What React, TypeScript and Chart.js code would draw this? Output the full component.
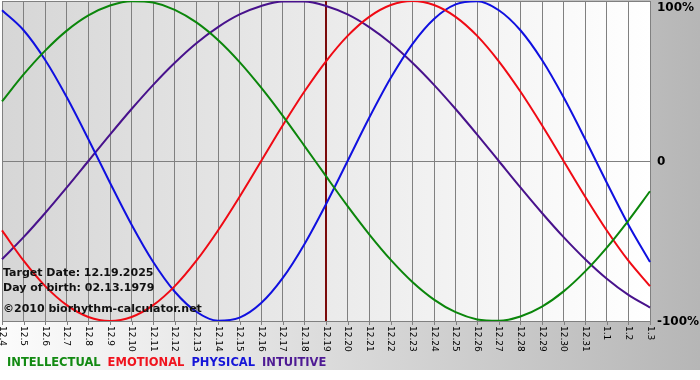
import React, { useEffect, useRef } from "react";
import { Chart, registerables } from "chart.js";

Chart.register(...registerables);

const dayLabels = [
  "12.4", "12.5", "12.6", "12.7", "12.8", "12.9", "12.10", "12.11", "12.12", "12.13",
  "12.14", "12.15", "12.16", "12.17", "12.18", "12.19", "12.20", "12.21", "12.22", "12.23",
  "12.24", "12.25", "12.26", "12.27", "12.28", "12.29", "12.30", "12.31", "1.1", "1.2", "1.3",
];

const intellectual = [
  0.372, 0.541, 0.69, 0.815, 0.91, 0.972, 0.999, 0.99, 0.945, 0.866,
  0.756, 0.618, 0.458, 0.282, 0.095, -0.095, -0.282, -0.458, -0.618, -0.756,
  -0.866, -0.945, -0.99, -0.999, -0.972, -0.91, -0.815, -0.69, -0.541, -0.372, -0.189,
];
const emotional = [
  -0.434, -0.623, -0.782, -0.901, -0.975, -1.0, -0.975, -0.901, -0.782, -0.623,
  -0.434, -0.223, 0, 0.223, 0.434, 0.623, 0.782, 0.901, 0.975, 1.0,
  0.975, 0.901, 0.782, 0.623, 0.434, 0.223, 0, -0.223, -0.434, -0.623, -0.782,
];
const physical = [
  0.942, 0.817, 0.631, 0.398, 0.136, -0.136, -0.398, -0.631, -0.817, -0.942,
  -0.998, -0.979, -0.888, -0.731, -0.52, -0.27, 0, 0.27, 0.52, 0.731,
  0.888, 0.979, 0.998, 0.942, 0.817, 0.631, 0.398, 0.136, -0.136, -0.398, -0.631,
];
const intuitive = [
  -0.614, -0.476, -0.325, -0.165, 0, 0.165, 0.325, 0.476, 0.614, 0.736,
  0.837, 0.916, 0.969, 0.997, 0.997, 0.969, 0.916, 0.837, 0.736, 0.614,
  0.476, 0.325, 0.165, 0, -0.165, -0.325, -0.476, -0.614, -0.736, -0.837, -0.916,
];

const seriesNames = ["INTELLECTUAL", "EMOTIONAL", "PHYSICAL", "INTUITIVE"];
const seriesColors = ["#0b860b", "#f00a14", "#1010e0", "#48128c"];
const legendColors = ["#128a12", "#f0141e", "#1414d8", "#4e1a94"];

const yTickValues = [1, 0, -1];
const yTickLabels = ["100%", "0", "-100%"];

const targetLabel = "12.19";
const infoLines = ["Target Date: 12.19.2025", "Day of birth: 02.13.1979"];
const copyrightText = "\u00a92010 biorhythm-calculator.net";

const FONT = '"DejaVu Sans", Verdana, sans-serif';

const backgroundPlugin = {
  id: "bgPlugin",
  beforeDraw(chart: any) {
    const { ctx, chartArea: a, width, height } = chart;
    ctx.save();
    const g = ctx.createLinearGradient(0, 0, width, 0);
    g.addColorStop(0, "#fcfcfc");
    g.addColorStop(1, "#b6b6b6");
    ctx.fillStyle = g;
    ctx.fillRect(0, 0, width, height);
    const g2 = ctx.createLinearGradient(a.left, 0, a.right, 0);
    g2.addColorStop(0, "#d6d6d6");
    g2.addColorStop(1, "#ffffff");
    ctx.fillStyle = g2;
    ctx.fillRect(a.left, a.top, a.right - a.left, a.bottom - a.top);
    ctx.restore();
  },
  beforeDatasetsDraw(chart: any) {
    const { ctx, chartArea: a } = chart;
    const xs = chart.scales.x;
    const idx = dayLabels.indexOf(targetLabel);
    const x = Math.round(xs.getPixelForValue(idx));
    ctx.save();
    ctx.strokeStyle = "#7a0a0a";
    ctx.lineWidth = 2;
    ctx.beginPath();
    ctx.moveTo(x, a.top);
    ctx.lineTo(x, a.bottom);
    ctx.stroke();
    ctx.restore();
  },
  afterDatasetsDraw(chart: any) {
    const { ctx } = chart;
    ctx.save();
    ctx.fillStyle = "#111111";
    ctx.font = `bold 11px ${FONT}`;
    ctx.textAlign = "left";
    ctx.textBaseline = "alphabetic";
    ctx.fillText(infoLines[0], 3, 276);
    ctx.fillText(infoLines[1], 3, 291);
    ctx.fillText(copyrightText, 3, 312);
    ctx.restore();
  },
  afterDraw(chart: any) {
    const { ctx, chartArea: a } = chart;
    const xs = chart.scales.x;
    const ys = chart.scales.y;
    ctx.save();
    ctx.strokeStyle = "#808080";
    ctx.lineWidth = 1;
    dayLabels.forEach((_, i) => {
      const x = Math.round(xs.getPixelForValue(i)) + 0.5;
      ctx.beginPath();
      ctx.moveTo(x, a.bottom);
      ctx.lineTo(x, a.bottom + 4);
      ctx.stroke();
    });
    ctx.fillStyle = "#000000";
    ctx.font = `9px ${FONT}`;
    ctx.textAlign = "left";
    ctx.textBaseline = "middle";
    dayLabels.forEach((lab, i) => {
      const x = xs.getPixelForValue(i);
      ctx.save();
      ctx.translate(x, a.bottom + 5);
      ctx.rotate(Math.PI / 2);
      ctx.fillText(lab, 0, 0);
      ctx.restore();
    });
    ctx.font = `bold 12px ${FONT}`;
    ctx.fillStyle = "#000000";
    ctx.textBaseline = "middle";
    yTickValues.forEach((v, i) => {
      let y = ys.getPixelForValue(v);
      y = Math.max(y, a.top + 6);
      ctx.fillText(yTickLabels[i], a.right + 7, y + 0.5);
    });
    ctx.font = `bold 11.5px ${FONT}`;
    ctx.textBaseline = "alphabetic";
    let lx = 7;
    seriesNames.forEach((name, i) => {
      ctx.fillStyle = legendColors[i];
      ctx.fillText(name, lx, 366);
      lx += ctx.measureText(name).width + 7;
    });
    ctx.restore();
  },
};

export default function App() {
  const canvasRef = useRef<HTMLCanvasElement | null>(null);

  useEffect(() => {
    document.body.style.margin = "0";
    const canvas = canvasRef.current;
    if (!canvas) return;
    const seriesData = [intellectual, emotional, physical, intuitive];
    const chart = new Chart(canvas, {
      type: "line",
      data: {
        labels: dayLabels,
        datasets: seriesData.map((d, i) => ({
          label: seriesNames[i],
          data: d,
          borderColor: seriesColors[i],
          backgroundColor: seriesColors[i],
          borderWidth: 2,
          pointRadius: 0,
          cubicInterpolationMode: "monotone",
          fill: false,
        })),
      },
      options: {
        responsive: false,
        animation: false,
        devicePixelRatio: 1,
        layout: { padding: { left: 2, top: 1, right: 0, bottom: 0 }, autoPadding: false },
        plugins: {
          legend: { display: false },
          tooltip: { enabled: false },
          title: { display: false },
        },
        scales: {
          x: {
            type: "category",
            offset: false,
            grid: {
              color: "#808080",
              lineWidth: 1,
              drawTicks: false,
              offset: false,
            },
            border: { color: "#808080" },
            ticks: { display: false },
            afterFit(scale: any) {
              scale.height = 49;
            },
          },
          y: {
            position: "right",
            min: -1,
            max: 1,
            grid: { color: "#808080", lineWidth: 1, drawTicks: false },
            border: { color: "#808080" },
            ticks: { display: false, stepSize: 1 },
            afterFit(scale: any) {
              scale.width = 50;
            },
          },
        },
      },
      plugins: [backgroundPlugin],
    } as any);
    return () => chart.destroy();
  }, []);

  return (
    <div style={{ position: "absolute", left: 0, top: 0, width: 700, height: 370 }}>
      <canvas ref={canvasRef} width={700} height={370} style={{ display: "block" }} />
    </div>
  );
}
